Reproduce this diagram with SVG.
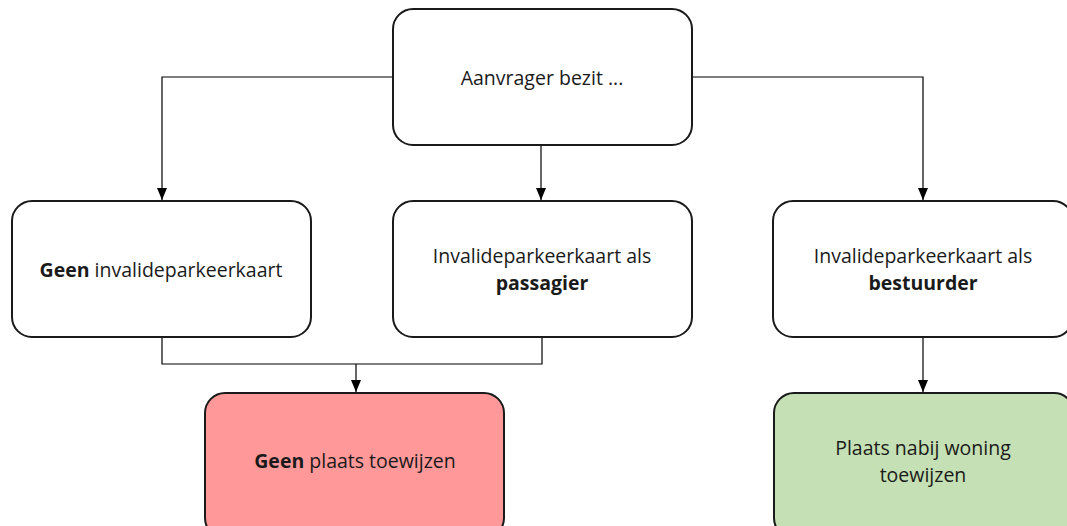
<svg xmlns="http://www.w3.org/2000/svg" width="1067" height="526" viewBox="0 0 1067 526">
  <style>
    .box { fill: #ffffff; stroke: #1a1a1a; stroke-width: 2; }
    .red { fill: #ff9999; }
    .green { fill: #c5e0b4; }
    .lbl { font-family: "Open Sans", "Liberation Sans", sans-serif; font-size: 19.5px; fill: #1a1a1a; text-anchor: middle; }
    .b { font-weight: bold; }
    .conn { fill: none; stroke: #000000; stroke-width: 1.2; }
  </style>
  <defs>
    <marker id="arrow" viewBox="0 0 12 10" refX="12" refY="5" markerWidth="12" markerHeight="11" markerUnits="userSpaceOnUse" orient="auto">
      <path d="M0,0 L12,5 L0,10 Z" fill="#000000"/>
    </marker>
  </defs>
  <rect width="1067" height="526" fill="#ffffff"/>

  <g id="connectors">
    <path class="conn" d="M393,77 H162 V200" marker-end="url(#arrow)"/>
    <path class="conn" d="M541,145 V200" marker-end="url(#arrow)"/>
    <path class="conn" d="M692,77 H923 V200" marker-end="url(#arrow)"/>
    <path class="conn" d="M162,337 V364 H542 V337"/>
    <path class="conn" d="M356,364 V392" marker-end="url(#arrow)"/>
    <path class="conn" d="M923,337 V392" marker-end="url(#arrow)"/>
  </g>

  <g id="node-aanvrager">
    <rect class="box" x="393" y="9" width="299" height="136" rx="20" ry="20"/>
    <text class="lbl" x="542" y="85">Aanvrager bezit ...</text>
  </g>

  <g id="node-geen-kaart">
    <rect class="box" x="12" y="201" width="299" height="136" rx="20" ry="20"/>
    <text class="lbl" x="161" y="277"><tspan class="b">Geen</tspan> invalideparkeerkaart</text>
  </g>

  <g id="node-passagier">
    <rect class="box" x="393" y="201" width="299" height="136" rx="20" ry="20"/>
    <text class="lbl" x="542" y="263">Invalideparkeerkaart als</text>
    <text class="lbl b" x="542" y="290">passagier</text>
  </g>

  <g id="node-bestuurder">
    <rect class="box" x="773" y="201" width="300" height="136" rx="20" ry="20"/>
    <text class="lbl" x="923" y="263">Invalideparkeerkaart als</text>
    <text class="lbl b" x="923" y="290">bestuurder</text>
  </g>

  <g id="node-geen-plaats">
    <rect class="box red" x="205" y="393" width="299" height="145" rx="20" ry="20"/>
    <text class="lbl" x="355" y="468"><tspan class="b">Geen</tspan> plaats toewijzen</text>
  </g>

  <g id="node-plaats-nabij">
    <rect class="box green" x="774" y="393" width="300" height="145" rx="20" ry="20"/>
    <text class="lbl" x="923" y="455">Plaats nabij woning</text>
    <text class="lbl" x="923" y="482">toewijzen</text>
  </g>
</svg>
